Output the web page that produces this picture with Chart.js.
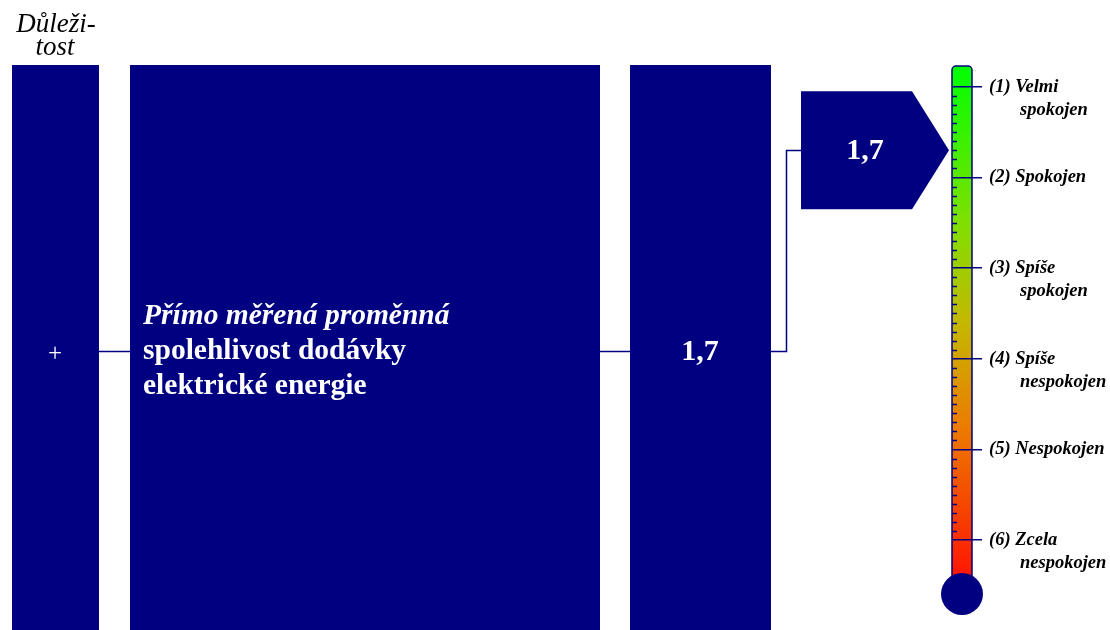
<!DOCTYPE html>
<html>
<head>
<meta charset="utf-8">
<script src="https://cdn.jsdelivr.net/npm/chart.js@4"></script>
<style>
  html, body { margin: 0; padding: 0; background: #fff; }
</style>
</head>
<body>
<canvas id="chart" width="1110" height="630"></canvas>
<script>
// stupnice spokojenosti
const levels = [1, 2, 3, 4, 5, 6];
const levelLabels = [
  ['(1) Velmi', 'spokojen'],
  ['(2) Spokojen'],
  ['(3) Spíše', 'spokojen'],
  ['(4) Spíše', 'nespokojen'],
  ['(5) Nespokojen'],
  ['(6) Zcela', 'nespokojen']
];
const scaleRange = [0.77, 6.44];
const minorStep = 0.1;

// hodnocení
const score = [1.7];
const scoreText = ['1,7'];
const importanceTitle = ['Důleži-', 'tost'];
const importanceSign = ['+'];
const variableKind = ['Přímo měřená proměnná'];
const variableName = ['spolehlivost dodávky', 'elektrické energie'];

const NAVY = '#000080';
const SERIF = '"Liberation Serif", "Times New Roman", serif';
const LABEL_FONT = 'italic bold 18.5px ' + SERIF;

function line(ctx, pts) {
  ctx.beginPath();
  ctx.moveTo(pts[0][0], pts[0][1]);
  for (let i = 1; i < pts.length; i++) ctx.lineTo(pts[i][0], pts[i][1]);
  ctx.stroke();
}

const diagram = {
  id: 'diagram',
  beforeDraw(chart) {
    const ctx = chart.ctx;
    const a = chart.chartArea;
    ctx.save();
    ctx.fillStyle = '#fff';
    ctx.fillRect(0, 0, chart.width, chart.height);

    // bloky
    ctx.fillStyle = NAVY;
    ctx.fillRect(12, 65, 87, 565);
    ctx.fillRect(130, 65, 470, 565);
    ctx.fillRect(630, 65, 141, 565);

    // nadpis Důležitost
    ctx.fillStyle = '#000';
    ctx.font = 'italic 27px ' + SERIF;
    ctx.textAlign = 'center';
    ctx.textBaseline = 'alphabetic';
    ctx.fillText(importanceTitle[0], 56, 32);
    ctx.fillText(importanceTitle[1], 55, 55);

    // texty v blocích
    ctx.fillStyle = '#fff';
    ctx.textBaseline = 'middle';
    ctx.font = '25px ' + SERIF;
    ctx.fillText(importanceSign[0], 55, 354);
    ctx.font = 'bold 30px ' + SERIF;
    ctx.fillText(scoreText[0], 700, 352);

    ctx.textAlign = 'left';
    ctx.textBaseline = 'alphabetic';
    ctx.font = 'italic bold 29.5px ' + SERIF;
    ctx.fillText(variableKind[0], 143, 324);
    ctx.font = 'bold 29.5px ' + SERIF;
    ctx.fillText(variableName[0], 143, 359);
    ctx.fillText(variableName[1], 143, 394);

    // trubice teploměru
    const r = 4;
    const grad = ctx.createLinearGradient(0, a.top, 0, a.bottom);
    grad.addColorStop(0, '#00ff00');
    grad.addColorStop(0.3, '#7ee000');
    grad.addColorStop(0.5, '#c4b800');
    grad.addColorStop(0.7, '#ec7c00');
    grad.addColorStop(1, '#ff1400');
    ctx.beginPath();
    ctx.moveTo(a.left, a.bottom);
    ctx.lineTo(a.left, a.top + r);
    ctx.arcTo(a.left, a.top, a.left + r, a.top, r);
    ctx.lineTo(a.right - r, a.top);
    ctx.arcTo(a.right, a.top, a.right, a.top + r, r);
    ctx.lineTo(a.right, a.bottom);
    ctx.fillStyle = grad;
    ctx.fill();
    ctx.strokeStyle = NAVY;
    ctx.lineWidth = 1.5;
    ctx.stroke();
    ctx.restore();
  },
  afterDraw(chart) {
    const ctx = chart.ctx;
    const a = chart.chartArea;
    const y = chart.scales.y;
    const pt = chart.getDatasetMeta(0).data[0];
    const tipY = pt.y;
    const tipX = a.left - 3;
    ctx.save();

    // vedlejší dílky
    ctx.strokeStyle = NAVY;
    ctx.lineWidth = 1.5;
    for (let i = 0; i < levels.length - 1; i++) {
      for (let k = 1; k < 10; k++) {
        const py = Math.round(y.getPixelForValue(levels[i] + k * minorStep)) + 0.5;
        line(ctx, [[a.left, py], [a.left + 5, py]]);
      }
    }

    // druhé řádky popisků
    ctx.fillStyle = '#000';
    ctx.font = LABEL_FONT;
    ctx.textAlign = 'left';
    ctx.textBaseline = 'middle';
    levels.forEach((v, i) => {
      if (levelLabels[i][1]) {
        ctx.fillText(levelLabels[i][1], 1020, y.getPixelForValue(v) + 23);
      }
    });

    // baňka
    ctx.fillStyle = NAVY;
    ctx.beginPath();
    ctx.arc((a.left + a.right) / 2, 594, 21, 0, Math.PI * 2);
    ctx.fill();

    // šipka s hodnotou
    ctx.beginPath();
    ctx.moveTo(801, tipY - 59);
    ctx.lineTo(912, tipY - 59);
    ctx.lineTo(tipX, tipY);
    ctx.lineTo(912, tipY + 59);
    ctx.lineTo(801, tipY + 59);
    ctx.closePath();
    ctx.fill();
    ctx.fillStyle = '#fff';
    ctx.font = 'bold 30px ' + SERIF;
    ctx.textAlign = 'center';
    ctx.fillText(scoreText[0], 865, tipY + 1);

    // spojnice
    ctx.strokeStyle = NAVY;
    ctx.lineWidth = 1.5;
    line(ctx, [[99, 351.5], [130, 351.5]]);
    line(ctx, [[600, 351.5], [630, 351.5]]);
    line(ctx, [[771, 351.5], [786.5, 351.5], [786.5, Math.round(tipY) + 0.5], [801, Math.round(tipY) + 0.5]]);
    ctx.restore();
  }
};

new Chart(document.getElementById('chart'), {
  type: 'scatter',
  data: {
    datasets: [{
      data: score.map(v => ({ x: 0, y: v })),
      pointRadius: 0,
      pointHoverRadius: 0
    }]
  },
  options: {
    responsive: false,
    animation: false,
    devicePixelRatio: 1,
    layout: { padding: { left: 952, top: 66, bottom: 50, right: 0 } },
    plugins: { legend: { display: false }, tooltip: { enabled: false } },
    scales: {
      x: { type: 'linear', display: false, min: -1, max: 1 },
      y: {
        type: 'linear',
        position: 'right',
        reverse: true,
        min: scaleRange[0],
        max: scaleRange[1],
        afterBuildTicks: s => { s.ticks = levels.map(v => ({ value: v })); },
        afterFit: s => { s.width = 138; },
        grid: { color: NAVY, lineWidth: 1.5, tickLength: 10, drawOnChartArea: true },
        border: { display: false },
        ticks: {
          autoSkip: false,
          padding: 7,
          color: '#000',
          font: { family: SERIF, size: 18.5, style: 'italic', weight: 'bold' },
          callback: v => levelLabels[levels.indexOf(v)][0]
        }
      }
    }
  },
  plugins: [diagram]
});
</script>
</body>
</html>
